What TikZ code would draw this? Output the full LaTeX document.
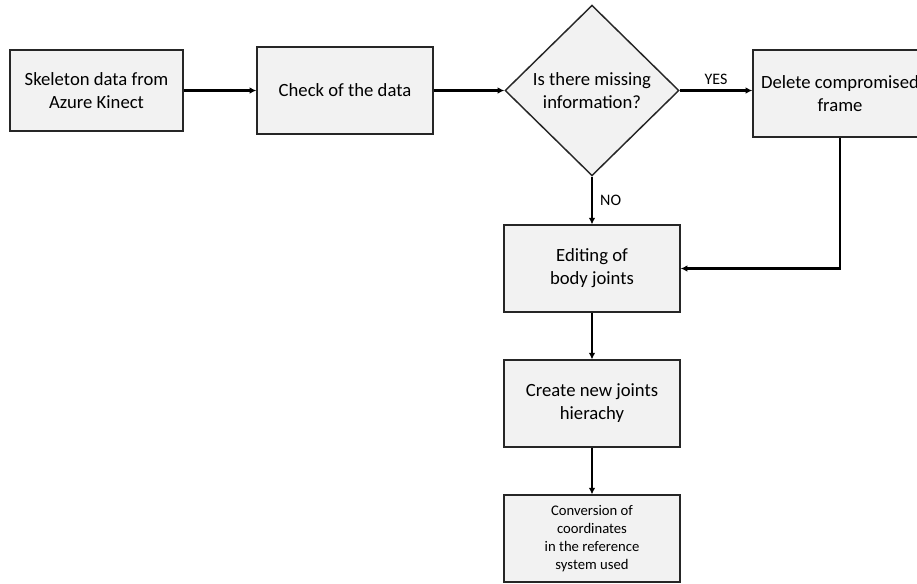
\documentclass[tikz,border=0pt]{standalone}
\usepackage{fontspec}
\setmainfont{Carlito}
\usetikzlibrary{shapes.geometric,arrows.meta}

\begin{document}
\begin{tikzpicture}[x=0.75pt,y=-0.75pt,
    box/.style={rectangle,draw=black!85,line width=1.1pt,fill=black!5,align=center,
        minimum width=132pt,minimum height=65pt,inner sep=2pt,
        font=\fontsize{14}{17.25}\selectfont},
    ask/.style={diamond,draw=black!85,line width=1.1pt,fill=black!5,align=center,
        minimum width=130.5pt,minimum height=128pt,inner sep=0pt,
        font=\fontsize{14}{17.25}\selectfont},
    link/.style={line width=1.6pt,-{Latex[length=5pt,width=5pt]}},
    tag/.style={font=\fontsize{12}{14}\selectfont}]
    \path[use as bounding box,clip] (0,0) rectangle (917,583);
    %top row
    \node[box,minimum width=130pt,minimum height=61pt] (skel) at (96.5,90.5) {Skeleton data from\\Azure Kinect};
    \node[box] (check) at (345,90.5) {Check of the data};
    \node[ask] (miss) at (592,90.5) {Is there missing\\information?};
    \node[box,minimum width=130.5pt] (del) at (840,93.5) {Delete compromised\\frame};
    %column below the question
    \node[box] (edit) at (592,268.5) {Editing of\\body joints};
    \node[box] (hier) at (592,403.5) {Create new joints\\hierachy};
    \node[box,font=\fontsize{11}{13.5}\selectfont] (conv) at (592,538.5) {Conversion of\\coordinates\\in the reference\\system used};
    % arrows
    \draw[link] (skel) -- (check);
    \draw[link] (check) -- (miss);
    \draw[link] (miss.east) -- node[tag,above] {YES} (del.west |- miss.east);
    \draw[link] (miss) -- node[tag,right,xshift=2pt] {NO} (edit);
    \draw[link] (del) |- (edit);
    \draw[link] (edit) -- (hier);
    \draw[link] (hier) -- (conv);
\end{tikzpicture}
\end{document}
